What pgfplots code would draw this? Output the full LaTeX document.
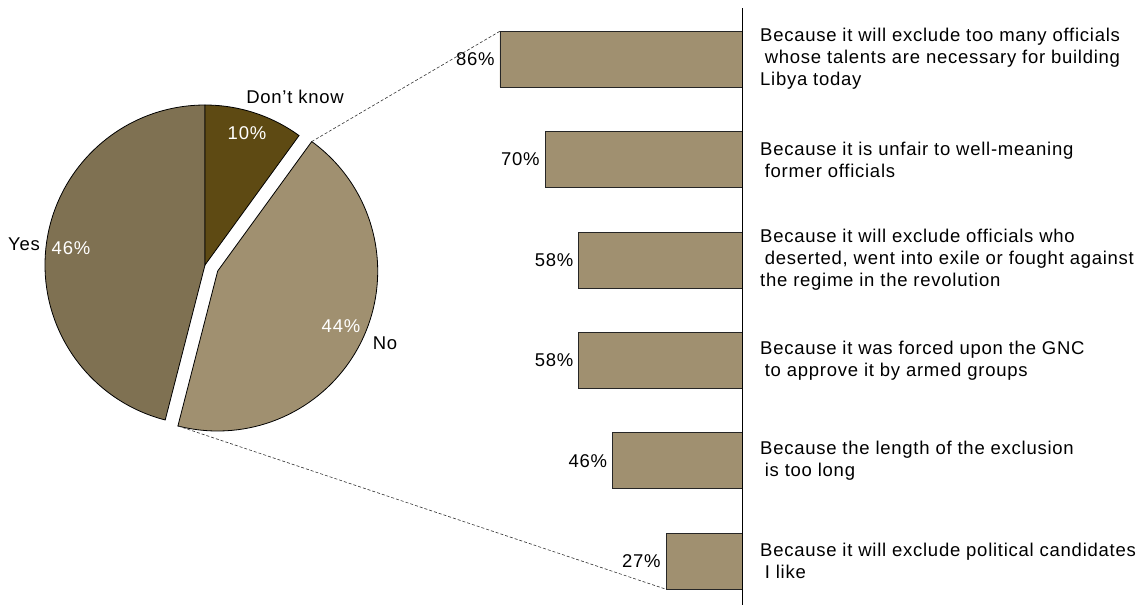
\documentclass[border=0pt]{standalone}
\usepackage{pgfplots}
\pgfplotsset{compat=1.18}
\usepackage{fontspec}
\setmainfont{Liberation Sans}[LetterSpace=4]
\definecolor{yescol}{HTML}{7F7152}
\definecolor{dkcol}{HTML}{5E4A13}
\definecolor{nocol}{HTML}{A09070}
\definecolor{barcol}{HTML}{A09070}
% pie values (%)
\def\pDK{10}
\def\pNo{44}
\def\pYes{46}
\newcommand{\lfont}{\fontsize{18.5pt}{22pt}\selectfont}
\begin{document}
\lfont
\begin{tikzpicture}
\useasboundingbox (0pt,0pt) rectangle (1144pt,-607pt);
% ---------------- bars ----------------
\begin{axis}[
  at={(742pt,-8pt)}, anchor=north east,
  scale only axis, width=281.4pt, height=597.4pt,
  xbar, bar width=56pt,
  x dir=reverse, y dir=reverse,
  xmin=0, xmax=100, ymin=-0.51, ymax=5.44,
  hide axis, clip=false,
  point meta=x,
  /pgf/number format/assume math mode=true,
  nodes near coords={\pgfmathprintnumber{\pgfplotspointmeta}\%},
  every node near coord/.append style={anchor=east, inner sep=0pt, xshift=-5pt, font=\lfont},
]
\addplot[fill=barcol, draw=black!85, line width=0.9pt] coordinates {
  (86,0) (70,1) (58,2) (58,3) (46,4) (27,5)
};
\draw[black, line width=0.9pt] (axis cs:0,-0.51) -- (axis cs:0,5.44);
\coordinate (btop) at ([yshift=28pt]axis cs:86,0);
\coordinate (bbot) at ([yshift=-28pt]axis cs:27,5);
\begin{scope}[every node/.style={anchor=west, align=left, inner sep=0pt, xshift=18pt, font=\lfont}]
\node at (axis cs:0,0) {Because it will exclude too many officials\\\hspace{0.25em}whose talents are necessary for building\\Libya today};
\node at (axis cs:0,1) {Because it is unfair to well-meaning\\\hspace{0.25em}former officials};
\node at (axis cs:0,2) {Because it will exclude officials who\\\hspace{0.25em}deserted, went into exile or fought against\\the regime in the revolution};
\node at (axis cs:0,3) {Because it was forced upon the GNC\\\hspace{0.25em}to approve it by armed groups};
\node at (axis cs:0,4) {Because the length of the exclusion\\\hspace{0.25em}is too long};
\node at (axis cs:0,5) {Because it will exclude political candidates\\\hspace{0.25em}I like};
\end{scope}
\end{axis}
% ---------------- pie ----------------
\begin{axis}[
  at={(0pt,0pt)}, anchor=north west,
  scale only axis, width=1144pt, height=607pt,
  xmin=0, xmax=1144, ymin=0, ymax=607, y dir=reverse,
  hide axis, clip=false,
]
\pgfmathsetmacro{\aA}{90}
\pgfmathsetmacro{\aB}{90-3.6*\pDK}
\pgfmathsetmacro{\aC}{\aB-3.6*\pNo}
\pgfmathsetmacro{\aD}{90+3.6*\pYes}
% Yes
\filldraw[fill=yescol, draw=black, line width=0.8pt] (axis cs:205,265) -- ++(\aA:160pt) arc[start angle=\aA, end angle=\aD, radius=160pt] -- cycle;
% Don't know
\filldraw[fill=dkcol, draw=black, line width=0.8pt] (axis cs:205,265) -- ++(\aA:160pt) arc[start angle=\aA, end angle=\aB, radius=160pt] -- cycle;
% No (exploded)
\filldraw[fill=nocol, draw=black, line width=0.8pt] (axis cs:217.7,271) -- ++(\aB:160pt) arc[start angle=\aB, end angle=\aC, radius=160pt] -- cycle;
\coordinate (ptop) at ([shift={(\aB:160pt)}]axis cs:217.7,271);
\coordinate (pbot) at ([shift={(\aC:160pt)}]axis cs:217.7,271);
\begin{scope}[every node/.style={inner sep=0pt, font=\lfont}]
\node at (axis cs:295,97) {Don’t know};
\node[white] at (axis cs:247,133) {10\%};
\node at (axis cs:24,244) {Yes};
\node[white] at (axis cs:71,248) {46\%};
\node[white] at (axis cs:341,326) {44\%};
\node at (axis cs:385,343) {No};
\end{scope}
\end{axis}
\draw[dashed, dash pattern=on 3pt off 2pt, line width=0.6pt, black!80] (ptop) -- (btop);
\draw[dashed, dash pattern=on 3pt off 2pt, line width=0.6pt, black!80] (pbot) -- (bbot);
\end{tikzpicture}
\end{document}
